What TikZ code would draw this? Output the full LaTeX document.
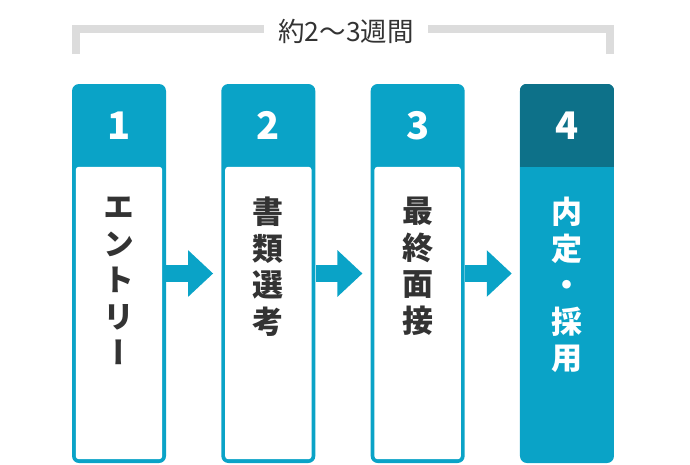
\documentclass[tikz,border=0pt]{standalone}
\usepackage{fontspec}
\setmainfont{Noto Sans CJK JP}
\newfontfamily\vertfont[RawFeature=+vert]{Noto Sans CJK JP}
\usetikzlibrary{arrows.meta}
\definecolor{stepblue}{HTML}{0AA3C7}
\definecolor{stepdark}{HTML}{0D7189}
\definecolor{inkgray}{HTML}{333333}
\definecolor{spangray}{HTML}{DCDCDC}

\begin{document}
\begin{tikzpicture}[x=1pt,y=-1pt]
\tikzset{
  card/.style={minimum width=94pt, minimum height=379pt, inner sep=0pt,
               fill=stepblue, rounded corners=7pt},
  sheet/.style={fill=white, rounded corners=3pt},
  num/.style={font=\fontsize{38}{38}\selectfont\bfseries, text=white, inner sep=0pt},
  steptext/.style={font=\vertfont\fontsize{31}{36.5}\selectfont\bfseries,
                   align=center, anchor=north, inner sep=0pt, text=inkgray},
  flow/.style={stepblue, line width=17pt, -{Triangle[length=25pt,width=45pt]}},
  bracket/.style={spangray, line width=8pt, line join=miter}
  };

\useasboundingbox (0,0) rectangle (690,464);

\def\d{149.33}

% cards
\node[card] (c1) at (119,273.5)       {};
\node[card] (c2) at (119+\d,273.5)    {};
\node[card] (c3) at (119+2*\d,273.5)  {};
\node[card] (c4) at (119+3*\d,273.5)  {};

\begin{scope}
\clip[rounded corners=7pt] (c4.south west) rectangle (c4.north east);
\fill[stepdark] (c4.north west) rectangle ([yshift=-83pt]c4.north east);
\end{scope}

% white bodies
\foreach \c in {c1,c2,c3}
  \fill[sheet] ([xshift=4pt,yshift=4pt]\c.south west) rectangle ([xshift=-4pt,yshift=-83pt]\c.north east);

% arrows
\draw[flow] (c1.east) -- ([xshift=-8pt]c2.west);
\draw[flow] (c2.east) -- ([xshift=-8pt]c3.west);
\draw[flow] (c3.east) -- ([xshift=-8pt]c4.west);

% numbers
\node[num] (n1) at ([yshift=-41.5pt]c1.north) {1};
\node[num] (n2) at ([yshift=-41.5pt]c2.north) {2};
\node[num] (n3) at ([yshift=-41.5pt]c3.north) {3};
\node[num] (n4) at ([yshift=-41.5pt]c4.north) {4};

% step names
\node[steptext] (t1) at ([yshift=-113pt]c1.north) {エ\\ン\\ト\\リ\\ー};
\node[steptext] (t2) at ([yshift=-113pt]c2.north) {書\\類\\選\\考};
\node[steptext] (t3) at ([yshift=-113pt]c3.north) {最\\終\\面\\接};
\node[steptext, text=white] (t4) at ([yshift=-113pt]c4.north) {内\\定\\・\\採\\用};

% period
\node[font=\fontsize{26.5}{26.5}\selectfont, text=inkgray, inner xsep=14pt, inner ysep=0pt]
  (span) at (346,31.5) {約2〜3週間};
\coordinate (bl) at (76,54);
\coordinate (br) at (610,54);
\draw[bracket] (bl) |- ([yshift=2.5pt]span.west);
\draw[bracket] (br) |- ([yshift=2.5pt]span.east);

\end{tikzpicture}
\end{document}
